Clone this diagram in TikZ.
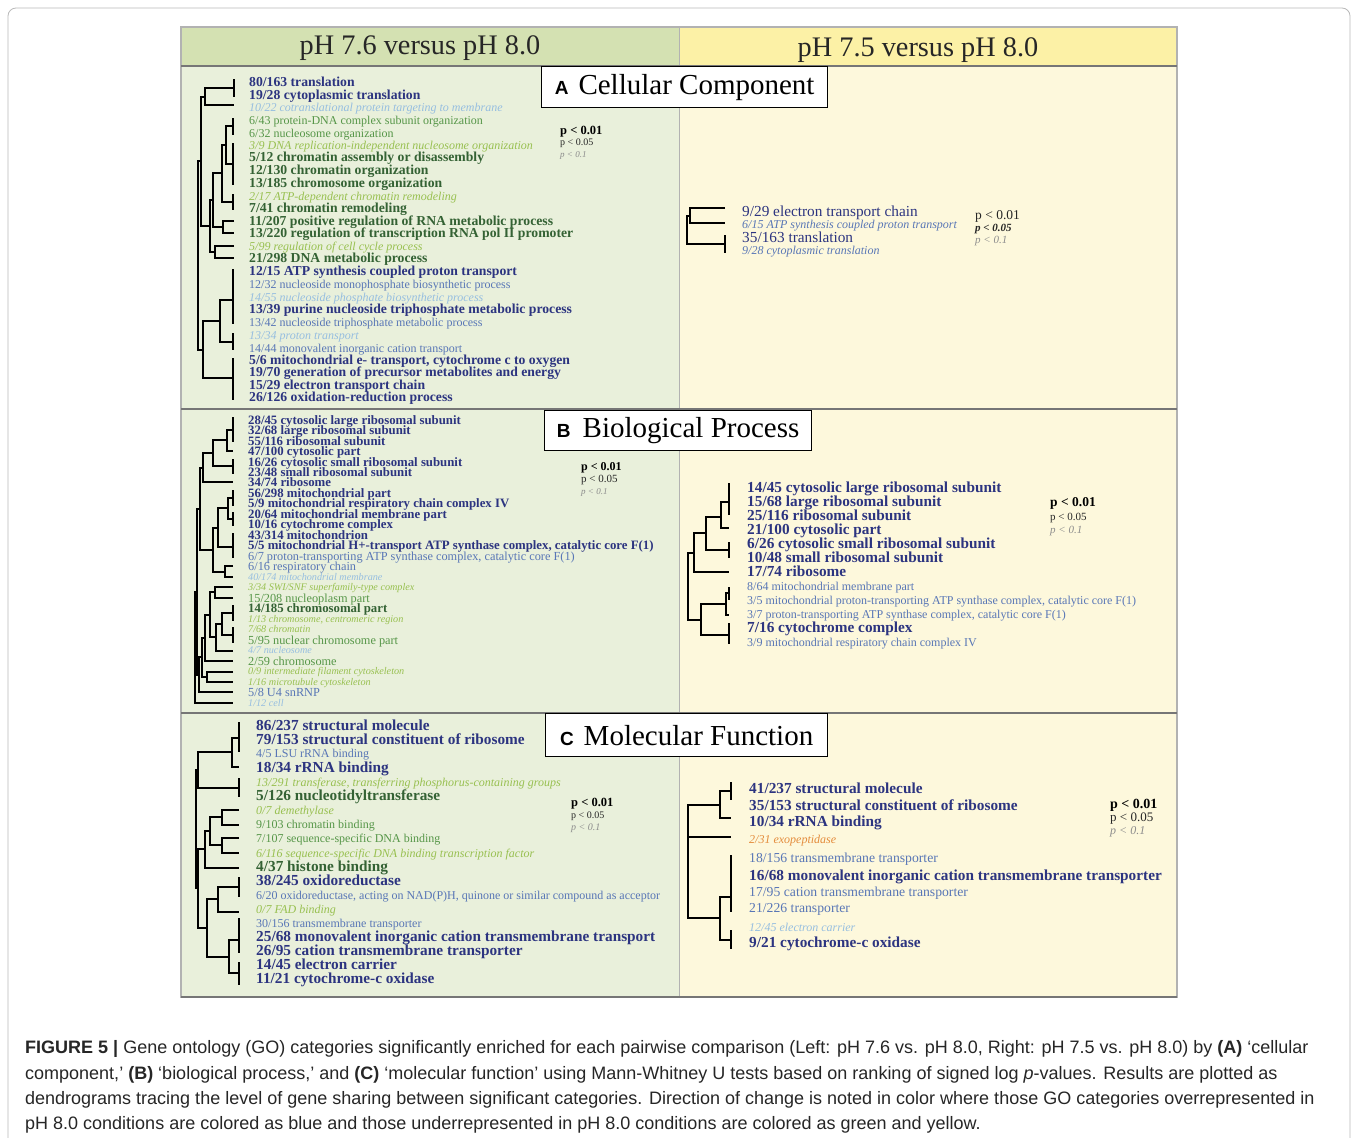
\documentclass[tikz,border=0pt]{standalone}
\usepackage{fontspec}
\setmainfont{Liberation Serif}
\newfontfamily\capfont{Liberation Sans}

\definecolor{dkblue}{RGB}{44,52,128}
\definecolor{mdblue}{RGB}{88,118,182}
\definecolor{ltblue}{RGB}{150,190,224}
\definecolor{dkgreen}{RGB}{52,98,52}
\definecolor{mdgreen}{RGB}{86,150,72}
\definecolor{ltgreen}{RGB}{152,192,80}
\definecolor{exorange}{RGB}{228,140,60}
\definecolor{hdgreen}{RGB}{212,225,178}
\definecolor{hdyellow}{RGB}{252,241,166}
\definecolor{bggreen}{RGB}{233,240,219}
\definecolor{bgyellow}{RGB}{253,248,220}
\definecolor{rulegray}{RGB}{118,118,118}

\newcommand\panelletter[1]{{\capfont\bfseries\fontsize{19}{20}\selectfont #1}}
\newcommand\leaftick[3]{\draw[tree] (#1,#2) -- (#1,#3);}
\newcommand\clade[5]{\draw[tree] (#2,#3) -| (#1,#5) -- (#4,#5);}

\tikzset{
  tree/.style={line width=1.2pt,black},
  lb/.style={anchor=base west,inner sep=0pt,yshift=-0.34*#1},
  upb/.style={lb=\bsz,text=dkblue,font=\fontsize{\bsz}{\bsz}\selectfont\bfseries},
  upd/.style={lb=\bsz,text=dkblue,font=\fontsize{\bsz}{\bsz}\selectfont},
  upn/.style={lb=\nsz,text=mdblue,font=\fontsize{\nsz}{\nsz}\selectfont},
  upmi/.style={lb=\isz,text=mdblue,font=\fontsize{\isz}{\isz}\selectfont\itshape},
  upi/.style={lb=\isz,text=ltblue,font=\fontsize{\isz}{\isz}\selectfont\itshape},
  dnb/.style={lb=\bsz,text=dkgreen,font=\fontsize{\bsz}{\bsz}\selectfont\bfseries},
  dnn/.style={lb=\nsz,text=mdgreen,font=\fontsize{\nsz}{\nsz}\selectfont},
  dni/.style={lb=\isz,text=ltgreen,font=\fontsize{\isz}{\isz}\selectfont\itshape},
  ori/.style={lb=\isz,text=exorange,font=\fontsize{\isz}{\isz}\selectfont\itshape},
  pone/.style={lb=#1,text=black,font=\fontsize{#1}{#1}\selectfont\bfseries},
  ptwo/.style={lb=#1,text=black!85,font=\fontsize{#1}{#1}\selectfont},
  pitb/.style={lb=#1,text=black!85,font=\fontsize{#1}{#1}\selectfont\bfseries\itshape},
  pthree/.style={lb=#1,text=black!45,font=\fontsize{#1}{#1}\selectfont\itshape},
  hdr/.style={inner sep=0pt,text=black!85,font=\fontsize{28.3}{30}\selectfont},
  ptitle/.style={draw=black,line width=1.3pt,fill=white,inner sep=0pt,anchor=north west,
    font=\fontsize{29}{30}\selectfont},
  rule/.style={rulegray,line width=2pt},
  capline/.style={anchor=base west,inner sep=0pt,text=black!85,
    font=\capfont\fontsize{18}{19}\selectfont},
}

\begin{document}
\begin{tikzpicture}[x=1pt,y=-1pt]
\useasboundingbox[fill=white] (0,0) rectangle (1358,1138);
\draw[gray!55,line width=0.8pt,rounded corners=8pt] (8,8) rectangle (1350,1170);

% backgrounds
\fill[hdgreen] (181,27) rectangle (679,66);
\fill[hdyellow] (679,27) rectangle (1177,66);
\fill[bggreen] (181,66) rectangle (679,997);
\fill[bgyellow] (679,66) rectangle (1177,997);
\draw[gray!60,line width=1pt] (679,27) -- (679,997);
\draw[gray!60,line width=1.5pt] (181,27) rectangle (1177,997);
\draw[rule] (181,66) -- (1177,66);
\draw[rule] (181,409) -- (1177,409);
\draw[rule] (181,713) -- (1177,713);
\draw[rule] (181,997) -- (1177,997);

\node[hdr] (h76) at (420,48) {pH 7.6 versus pH 8.0};
\node[hdr] (h75) at (918,50) {pH 7.5 versus pH 8.0};

\node[ptitle,minimum width=286pt,minimum height=41pt] (tA) at (541,66)
  {\panelletter{A}\hspace{10pt}Cellular Component};
\node[ptitle,minimum width=267pt,minimum height=40pt] (tB) at (544,410)
  {\panelletter{B}\hspace{12pt}Biological Process};
\node[ptitle,minimum width=282pt,minimum height=43pt] (tC) at (545,713)
  {\panelletter{C}\hspace{10pt}Molecular Function};

% ---- A, left
\def\bsz{13.7}\def\nsz{12}\def\isz{12}
\node[upb] (al1) at (249,82) {80/163 translation};
\node[upb] (al2) at (249,95) {19/28 cytoplasmic translation};
\node[upi] (al3) at (249,107) {10/22 cotranslational protein targeting to membrane};
\node[dnn] (al4) at (249,120) {6/43 protein-DNA complex subunit organization};
\node[dnn] (al5) at (249,133) {6/32 nucleosome organization};
\node[dni] (al6) at (249,145) {3/9 DNA replication-independent nucleosome organization};
\node[dnb] (al7) at (249,157) {5/12 chromatin assembly or disassembly};
\node[dnb] (al8) at (249,170) {12/130 chromatin organization};
\node[dnb] (al9) at (249,183) {13/185 chromosome organization};
\node[dni] (al10) at (249,196) {2/17 ATP-dependent chromatin remodeling};
\node[dnb] (al11) at (249,208) {7/41 chromatin remodeling};
\node[dnb] (al12) at (249,221) {11/207 positive regulation of RNA metabolic process};
\node[dnb] (al13) at (249,233) {13/220 regulation of transcription RNA pol II promoter};
\node[dni] (al14) at (249,246) {5/99 regulation of cell cycle process};
\node[dnb] (al15) at (249,258) {21/298 DNA metabolic process};
\node[upb] (al16) at (249,271) {12/15 ATP synthesis coupled proton transport};
\node[upn] (al17) at (249,284) {12/32 nucleoside monophosphate biosynthetic process};
\node[upi] (al18) at (249,297) {14/55 nucleoside phosphate biosynthetic process};
\node[upb] (al19) at (249,309) {13/39 purine nucleoside triphosphate metabolic process};
\node[upn] (al20) at (249,322) {13/42 nucleoside triphosphate metabolic process};
\node[upi] (al21) at (249,335) {13/34 proton transport};
\node[upn] (al22) at (249,348) {14/44 monovalent inorganic cation transport};
\node[upb] (al23) at (249,360) {5/6 mitochondrial e- transport, cytochrome c to oxygen};
\node[upb] (al24) at (249,372) {19/70 generation of precursor metabolites and energy};
\node[upb] (al25) at (249,385) {15/29 electron transport chain};
\node[upb] (al26) at (249,397) {26/126 oxidation-reduction process};
\node[pone=12.5] (alp1) at (560,130) {p < 0.01};
\node[ptwo=10] (alp2) at (560,142) {p < 0.05};
\node[pthree=9] (alp3) at (560,154) {p < 0.1};

\leaftick{234}{79}{97}
\clade{205}{234}{88}{234}{105}
\leaftick{233}{118}{135}
\leaftick{233}{143}{185}
\clade{226}{233}{126}{233}{164}
\leaftick{233}{194}{210}
\clade{222}{226}{145}{233}{202}
\clade{223}{234}{221}{234}{233}
\clade{213}{222}{173}{223}{227}
\clade{215}{234}{246}{234}{258}
\clade{210}{213}{200}{215}{252}
\leaftick{233}{269}{324}
\leaftick{233}{333}{350}
\clade{220}{233}{300}{233}{342}
\leaftick{233}{358}{400}
\clade{203}{220}{321}{233}{378}
\clade{201}{205}{97}{210}{226}
\clade{198}{201}{161}{203}{350}

% ---- A, right
\def\bsz{15.3}\def\nsz{12}\def\isz{12}
\node[upd] (ar1) at (742,211) {9/29 electron transport chain};
\node[upmi] (ar2) at (742,224) {6/15 ATP synthesis coupled proton transport};
\node[upd] (ar3) at (742,237) {35/163 translation};
\node[upmi] (ar4) at (742,250) {9/28 cytoplasmic translation};
\node[ptwo=13.5] (arp1) at (975,215) {p < 0.01};
\node[pitb=11] (arp2) at (975,228) {p < 0.05};
\node[pthree=11] (arp3) at (975,240) {p < 0.1};

\clade{690}{725}{208}{725}{223}
\leaftick{725}{235}{253}
\clade{687}{690}{216}{725}{244}

% ---- B, left
\def\bsz{12.8}\def\nsz{12.3}\def\isz{10.2}
\node[upb] (bl1) at (248,420) {28/45 cytosolic large ribosomal subunit};
\node[upb] (bl2) at (248,430.5) {32/68 large ribosomal subunit};
\node[upb] (bl3) at (248,441) {55/116 ribosomal subunit};
\node[upb] (bl4) at (248,451.5) {47/100 cytosolic part};
\node[upb] (bl5) at (248,462) {16/26 cytosolic small ribosomal subunit};
\node[upb] (bl6) at (248,472) {23/48 small ribosomal subunit};
\node[upb] (bl7) at (248,482.5) {34/74 ribosome};
\node[upb] (bl8) at (248,493) {56/298 mitochondrial part};
\node[upb] (bl9) at (248,503.5) {5/9 mitochondrial respiratory chain complex IV};
\node[upb] (bl10) at (248,514) {20/64 mitochondrial membrane part};
\node[upb] (bl11) at (248,524.5) {10/16 cytochrome complex};
\node[upb] (bl12) at (248,535) {43/314 mitochondrion};
\node[upb] (bl13) at (248,545.5) {5/5 mitochondrial H+-transport ATP synthase complex, catalytic core F(1)};
\node[upn] (bl14) at (248,556) {6/7 proton-transporting ATP synthase complex, catalytic core F(1)};
\node[upn] (bl15) at (248,566.5) {6/16 respiratory chain};
\node[upi] (bl16) at (248,577) {40/174 mitochondrial membrane};
\node[dni] (bl17) at (248,587.5) {3/34 SWI/SNF superfamily-type complex};
\node[dnn] (bl18) at (248,598) {15/208 nucleoplasm part};
\node[dnb] (bl19) at (248,608.5) {14/185 chromosomal part};
\node[dni] (bl20) at (248,619) {1/13 chromosome, centromeric region};
\node[dni] (bl21) at (248,629.5) {7/68 chromatin};
\node[dnn] (bl22) at (248,640) {5/95 nuclear chromosome part};
\node[upi] (bl23) at (248,650.5) {4/7 nucleosome};
\node[dnn] (bl24) at (248,661) {2/59 chromosome};
\node[dni] (bl25) at (248,671.5) {0/9 intermediate filament cytoskeleton};
\node[dni] (bl26) at (248,682) {1/16 microtubule cytoskeleton};
\node[upn] (bl27) at (248,692.5) {5/8 U4 snRNP};
\node[upi] (bl28) at (248,703) {1/12 cell};
\node[pone=12] (blp1) at (581,466) {p < 0.01};
\node[ptwo=11] (blp2) at (581,479) {p < 0.05};
\node[pthree=9] (blp3) at (581,491) {p < 0.1};

\leaftick{233}{417}{442}
\clade{227}{233}{430}{233}{451}
\leaftick{233}{459}{474}
\clade{213}{227}{440}{233}{466}
\clade{203}{213}{453}{233}{482}
\leaftick{233}{490}{506}
\leaftick{233}{512}{526}
\clade{228}{233}{498}{233}{519}
\leaftick{233}{533}{558}
\clade{218}{228}{508}{233}{547}
\clade{225}{233}{566}{233}{577}
\clade{213}{218}{528}{225}{572}
\clade{200}{203}{468}{213}{550}
\clade{215}{233}{587}{233}{598}
\leaftick{233}{605}{621}
\leaftick{233}{627}{643}
\clade{222}{233}{613}{233}{635}
\clade{216}{222}{624}{233}{651}
\clade{210}{215}{592}{216}{637}
\clade{205}{210}{615}{233}{661}
\clade{207}{233}{672}{233}{682}
\clade{202}{205}{638}{207}{677}
\clade{199}{202}{657}{233}{692}
\clade{197}{200}{509}{199}{675}
\clade{195}{197}{592}{233}{703}

% ---- B, right
\def\bsz{15.3}\def\nsz{12}\def\isz{12}
\node[upb] (br1) at (747,487) {14/45 cytosolic large ribosomal subunit};
\node[upb] (br2) at (747,501) {15/68 large ribosomal subunit};
\node[upb] (br3) at (747,515) {25/116 ribosomal subunit};
\node[upb] (br4) at (747,529) {21/100 cytosolic part};
\node[upb] (br5) at (747,543) {6/26 cytosolic small ribosomal subunit};
\node[upb] (br6) at (747,557) {10/48 small ribosomal subunit};
\node[upb] (br7) at (747,571) {17/74 ribosome};
\node[upn] (br8) at (747,586) {8/64 mitochondrial membrane part};
\node[upn] (br9) at (747,600) {3/5 mitochondrial proton-transporting ATP synthase complex, catalytic core F(1)};
\node[upn] (br10) at (747,614) {3/7 proton-transporting ATP synthase complex, catalytic core F(1)};
\node[upb] (br11) at (747,627) {7/16 cytochrome complex};
\node[upn] (br12) at (747,642) {3/9 mitochondrial respiratory chain complex IV};
\node[pone=13.5] (brp1) at (1050,502) {p < 0.01};
\node[ptwo=11] (brp2) at (1050,517) {p < 0.05};
\node[pthree=11] (brp3) at (1050,530) {p < 0.1};

\leaftick{729}{483}{515}
\clade{721}{729}{502}{729}{528}
\leaftick{729}{542}{558}
\clade{706}{721}{517}{729}{550}
\clade{694}{706}{533}{729}{572}
\leaftick{729}{587}{600}
\clade{726}{729}{593}{729}{615}
\leaftick{729}{623}{644}
\clade{701}{726}{604}{729}{635}
\clade{688}{694}{553}{701}{620}

% ---- C, left
\def\bsz{15.3}\def\nsz{12}\def\isz{12}
\node[upb] (cl1) at (256,725) {86/237 structural molecule};
\node[upb] (cl2) at (256,739) {79/153 structural constituent of ribosome};
\node[upn] (cl3) at (256,753) {4/5 LSU rRNA binding};
\node[upb] (cl4) at (256,767) {18/34 rRNA binding};
\node[dni] (cl5) at (256,782) {13/291 transferase, transferring phosphorus-containing groups};
\node[dnb] (cl6) at (256,795) {5/126 nucleotidyltransferase};
\node[dni] (cl7) at (256,810) {0/7 demethylase};
\node[dnn] (cl8) at (256,824) {9/103 chromatin binding};
\node[dnn] (cl9) at (256,838) {7/107 sequence-specific DNA binding};
\node[dni] (cl10) at (256,853) {6/116 sequence-specific DNA binding transcription factor};
\node[dnb] (cl11) at (256,866) {4/37 histone binding};
\node[upb] (cl12) at (256,880) {38/245 oxidoreductase};
\node[upn] (cl13) at (256,895) {6/20 oxidoreductase, acting on NAD(P)H, quinone or similar compound as acceptor};
\node[dni] (cl14) at (256,909) {0/7 FAD binding};
\node[upn] (cl15) at (256,923) {30/156 transmembrane transporter};
\node[upb] (cl16) at (256,936) {25/68 monovalent inorganic cation transmembrane transport};
\node[upb] (cl17) at (256,950) {26/95 cation transmembrane transporter};
\node[upb] (cl18) at (256,964) {14/45 electron carrier};
\node[upb] (cl19) at (256,978) {11/21 cytochrome-c oxidase};
\node[pone=12.5] (clp1) at (571,802) {p < 0.01};
\node[ptwo=10] (clp2) at (571,815) {p < 0.05};
\node[pthree=10] (clp3) at (571,827) {p < 0.1};

\leaftick{239}{722}{752}
\clade{232}{239}{738}{239}{767}
\leaftick{239}{778}{797}
\clade{198}{232}{752}{239}{788}
\clade{222}{239}{810}{239}{825}
\clade{222}{239}{838}{239}{853}
\clade{210}{222}{817}{222}{845}
\clade{205}{210}{831}{239}{868}
\leaftick{239}{877}{897}
\clade{218}{239}{887}{239}{912}
\leaftick{239}{918}{953}
\leaftick{239}{962}{985}
\clade{229}{239}{940}{239}{973}
\clade{207}{218}{899}{229}{957}
\clade{198}{205}{849}{207}{928}
\clade{196}{198}{770}{198}{888}

% ---- C, right
\def\bsz{15.3}\def\nsz{13.7}\def\isz{12}
\node[upb] (cr1) at (749,788) {41/237 structural molecule};
\node[upb] (cr2) at (749,805) {35/153 structural constituent of ribosome};
\node[upb] (cr3) at (749,821) {10/34 rRNA binding};
\node[ori] (cr4) at (749,839) {2/31 exopeptidase};
\node[upn] (cr5) at (749,858) {18/156 transmembrane transporter};
\node[upb] (cr6) at (749,875) {16/68 monovalent inorganic cation transmembrane transporter};
\node[upn] (cr7) at (749,892) {17/95 cation transmembrane transporter};
\node[upn] (cr8) at (749,908) {21/226 transporter};
\node[upi] (cr9) at (749,927) {12/45 electron carrier};
\node[upb] (cr10) at (749,942) {9/21 cytochrome-c oxidase};
\node[pone=14] (crp1) at (1110,804) {p < 0.01};
\node[ptwo=13] (crp2) at (1110,817) {p < 0.05};
\node[pthree=12] (crp3) at (1110,830) {p < 0.1};

\leaftick{731}{782}{800}
\clade{720}{731}{791}{731}{818}
\leaftick{731}{855}{912}
\leaftick{731}{930}{949}
\clade{720}{731}{897}{731}{940}
\clade{688}{720}{805}{720}{918}
\draw[tree] (688,837) -- (731,837);

% caption
\node[capline] (cap1) at (25,1053) {{\bfseries FIGURE 5 |} Gene ontology (GO) categories significantly enriched for each pairwise comparison (Left: pH 7.6 vs. pH 8.0, Right: pH 7.5 vs. pH 8.0) by {\bfseries (A)} ‘cellular};
\node[capline] (cap2) at (25,1079) {component,’ {\bfseries (B)} ‘biological process,’ and {\bfseries (C)} ‘molecular function’ using Mann-Whitney U tests based on ranking of signed log \textit{p}-values. Results are plotted as};
\node[capline] (cap3) at (25,1104) {dendrograms tracing the level of gene sharing between significant categories. Direction of change is noted in color where those GO categories overrepresented in};
\node[capline] (cap4) at (25,1129) {pH 8.0 conditions are colored as blue and those underrepresented in pH 8.0 conditions are colored as green and yellow.};
\end{tikzpicture}
\end{document}
